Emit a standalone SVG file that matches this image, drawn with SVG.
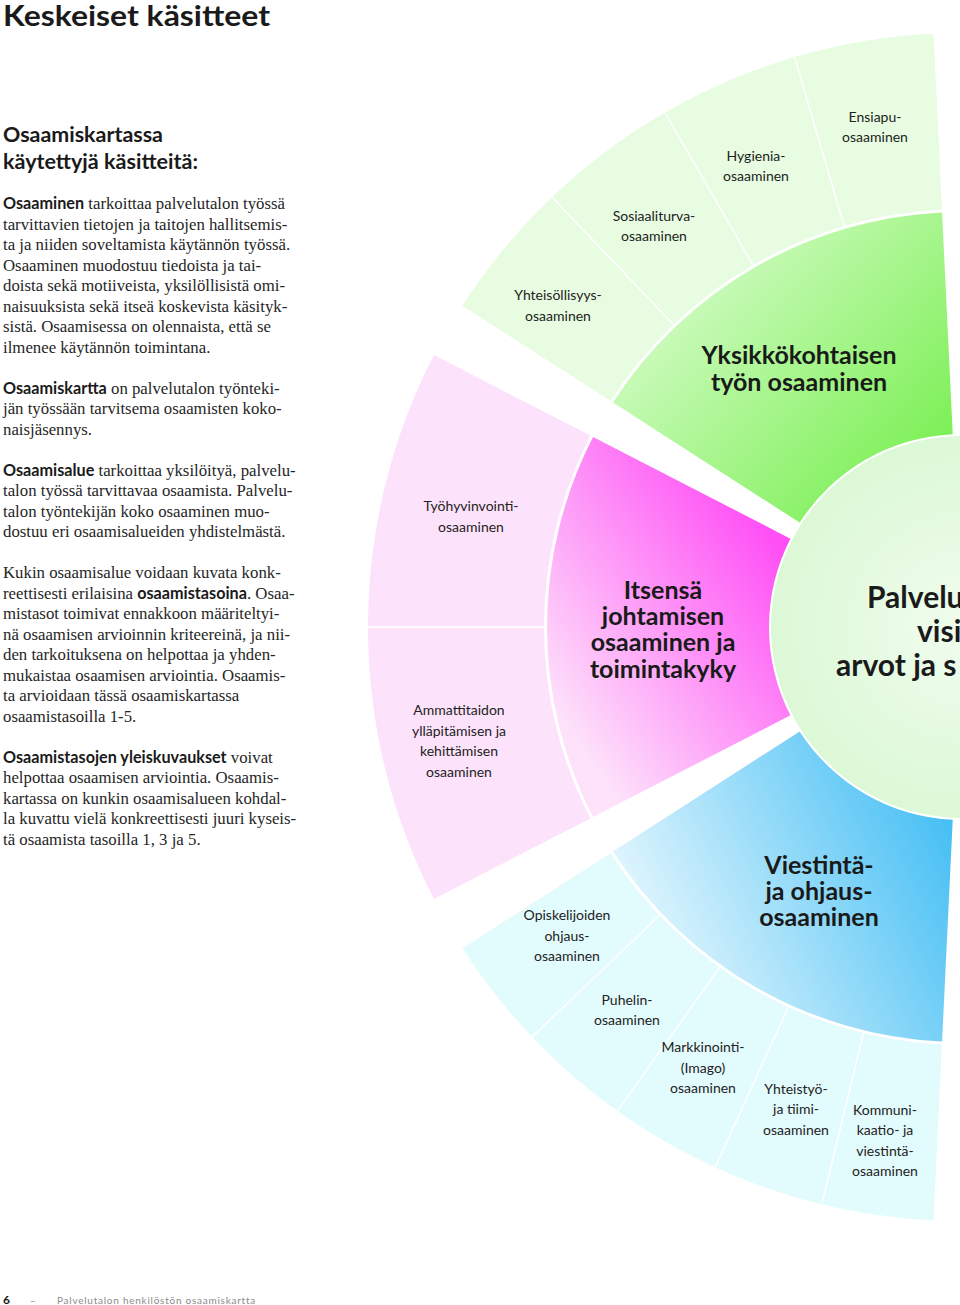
<svg xmlns="http://www.w3.org/2000/svg" width="960" height="1305" viewBox="0 0 960 1305">
<style>
.title{font-family:Lato,"Open Sans",sans-serif;font-weight:700;font-size:29px;fill:#1a1a1a}
.h2{font-family:Lato,"Open Sans",sans-serif;font-weight:700;font-size:21px;fill:#1a1a1a}
.body{font-family:"Liberation Serif","DejaVu Serif",serif;font-size:16.8px;fill:#262626}
.b{font-family:Lato,"Open Sans",sans-serif;font-weight:700;font-size:16.2px;fill:#1a1a1a}
.lbl{font-family:Lato,"Open Sans",sans-serif;font-size:14px;fill:#222;text-anchor:middle}
.big{font-family:Lato,"Open Sans",sans-serif;font-weight:700;font-size:25px;fill:#1a1a1a;text-anchor:middle}
.core{font-family:Lato,"Open Sans",sans-serif;font-weight:700;font-size:30px;fill:#1a1a1a}
.div{stroke:#fff;stroke-width:1.6;fill:none}
.foot{font-family:Lato,"Open Sans",sans-serif;font-size:10px;fill:#8a8a8a;letter-spacing:0.75px}
</style>
<defs>
<linearGradient id="gG" gradientUnits="userSpaceOnUse" x1="640" y1="250" x2="930" y2="520">
<stop offset="0" stop-color="#dcfdd2"/><stop offset="1" stop-color="#72ee48"/>
</linearGradient>
<linearGradient id="gP" gradientUnits="userSpaceOnUse" x1="560" y1="720" x2="790" y2="560">
<stop offset="0" stop-color="#fde2fa"/><stop offset="1" stop-color="#ff4ff5"/>
</linearGradient>
<linearGradient id="gB" gradientUnits="userSpaceOnUse" x1="650" y1="940" x2="940" y2="800">
<stop offset="0" stop-color="#e0f5fd"/><stop offset="1" stop-color="#46bff4"/>
</linearGradient>
<radialGradient id="gC" gradientUnits="userSpaceOnUse" cx="962" cy="627" r="191">
<stop offset="0" stop-color="#f0fdee"/><stop offset="1" stop-color="#dcf8d6"/>
</radialGradient>
</defs>

<g id="text-column">
<text class="title" x="3" y="26" textLength="267" lengthAdjust="spacingAndGlyphs">Keskeiset käsitteet</text>
<text class="h2" x="3" y="142" textLength="160" lengthAdjust="spacingAndGlyphs">Osaamiskartassa</text>
<text class="h2" x="3" y="169" textLength="195" lengthAdjust="spacingAndGlyphs">käytettyjä käsitteitä:</text>
<text class="body" x="3" y="209"><tspan class="b">Osaaminen</tspan> tarkoittaa palvelutalon työssä</text>
<text class="body" x="3" y="230">tarvittavien tietojen ja taitojen hallitsemis-</text>
<text class="body" x="3" y="250">ta ja niiden soveltamista käytännön työssä.</text>
<text class="body" x="3" y="271">Osaaminen muodostuu tiedoista ja tai-</text>
<text class="body" x="3" y="291">doista sekä motiiveista, yksilöllisistä omi-</text>
<text class="body" x="3" y="312">naisuuksista sekä itseä koskevista käsityk-</text>
<text class="body" x="3" y="332">sistä. Osaamisessa on olennaista, että se</text>
<text class="body" x="3" y="353">ilmenee käytännön toimintana.</text>
<text class="body" x="3" y="394"><tspan class="b">Osaamiskartta</tspan> on palvelutalon työnteki-</text>
<text class="body" x="3" y="414">jän työssään tarvitsema osaamisten koko-</text>
<text class="body" x="3" y="435">naisjäsennys.</text>
<text class="body" x="3" y="476"><tspan class="b">Osaamisalue</tspan> tarkoittaa yksilöityä, palvelu-</text>
<text class="body" x="3" y="496">talon työssä tarvittavaa osaamista. Palvelu-</text>
<text class="body" x="3" y="517">talon työntekijän koko osaaminen muo-</text>
<text class="body" x="3" y="537">dostuu eri osaamisalueiden yhdistelmästä.</text>
<text class="body" x="3" y="578">Kukin osaamisalue voidaan kuvata konk-</text>
<text class="body" x="3" y="599">reettisesti erilaisina <tspan class="b">osaamistasoina</tspan>. Osaa-</text>
<text class="body" x="3" y="619">mistasot toimivat ennakkoon määriteltyi-</text>
<text class="body" x="3" y="640">nä osaamisen arvioinnin kriteereinä, ja nii-</text>
<text class="body" x="3" y="660">den tarkoituksena on helpottaa ja yhden-</text>
<text class="body" x="3" y="681">mukaistaa osaamisen arviointia. Osaamis-</text>
<text class="body" x="3" y="701">ta arvioidaan tässä osaamiskartassa</text>
<text class="body" x="3" y="722">osaamistasoilla 1-5.</text>
<text class="body" x="3" y="763"><tspan class="b">Osaamistasojen yleiskuvaukset</tspan> voivat</text>
<text class="body" x="3" y="783">helpottaa osaamisen arviointia. Osaamis-</text>
<text class="body" x="3" y="804">kartassa on kunkin osaamisalueen kohdal-</text>
<text class="body" x="3" y="824">la kuvattu vielä konkreettisesti juuri kyseis-</text>
<text class="body" x="3" y="845">tä osaamista tasoilla 1, 3 ja 5.</text>
</g>

<g id="outer-green">
<path d="M933.5 33.68 A594 594 0 0 0 462.42 305.66 L610.45 400.87 A418 418 0 0 1 941.94 209.48 Z" fill="#e7fce0"/>
<line class="div" x1="844.14" y1="225.96" x2="794.52" y2="57.1"/>
<line class="div" x1="753" y1="265" x2="665" y2="112.58"/>
<line class="div" x1="673.48" y1="324.55" x2="551.99" y2="197.2"/>
<text class="lbl" x="875" y="122">Ensiapu-</text>
<text class="lbl" x="875" y="142">osaaminen</text>
<text class="lbl" x="756" y="161">Hygienia-</text>
<text class="lbl" x="756" y="181">osaaminen</text>
<text class="lbl" x="654" y="221">Sosiaaliturva-</text>
<text class="lbl" x="654" y="241">osaaminen</text>
<text class="lbl" x="558" y="300">Yhteisöllisyys-</text>
<text class="lbl" x="558" y="321">osaaminen</text>
</g>

<g id="outer-pink">
<path d="M433.92 355.03 A594 594 0 0 0 433.92 898.97 L590.39 818.39 A418 418 0 0 1 590.39 435.61 Z" fill="#fde2fb"/>
<line class="div" x1="366" y1="627" x2="546" y2="627"/>
<text class="lbl" x="471" y="511">Työhyvinvointi-</text>
<text class="lbl" x="471" y="532">osaaminen</text>
<text class="lbl" x="459" y="715">Ammattitaidon</text>
<text class="lbl" x="459" y="736">ylläpitämisen ja</text>
<text class="lbl" x="459" y="756">kehittämisen</text>
<text class="lbl" x="459" y="777">osaaminen</text>
</g>

<g id="outer-blue">
<path d="M462.42 948.34 A594 594 0 0 0 933.5 1220.32 L941.94 1044.52 A418 418 0 0 1 610.45 853.13 Z" fill="#e2fbfd"/>
<line class="div" x1="659.5" y1="915.5" x2="532.1" y2="1036.9"/>
<line class="div" x1="719.6" y1="967.5" x2="617.5" y2="1110.9"/>
<line class="div" x1="788.3" y1="1007.2" x2="715.2" y2="1167.3"/>
<line class="div" x1="863.4" y1="1033.2" x2="821.8" y2="1204.2"/>
<text class="lbl" x="567" y="920">Opiskelijoiden</text>
<text class="lbl" x="567" y="941">ohjaus-</text>
<text class="lbl" x="567" y="961">osaaminen</text>
<text class="lbl" x="627" y="1005">Puhelin-</text>
<text class="lbl" x="627" y="1025">osaaminen</text>
<text class="lbl" x="703" y="1052">Markkinointi-</text>
<text class="lbl" x="703" y="1073">(Imago)</text>
<text class="lbl" x="703" y="1093">osaaminen</text>
<text class="lbl" x="796" y="1094">Yhteistyö-</text>
<text class="lbl" x="796" y="1114">ja tiimi-</text>
<text class="lbl" x="796" y="1135">osaaminen</text>
<text class="lbl" x="885" y="1115">Kommuni-</text>
<text class="lbl" x="885" y="1135">kaatio- ja</text>
<text class="lbl" x="885" y="1156">viestintä-</text>
<text class="lbl" x="885" y="1176">osaaminen</text>
</g>

<g id="inner-green">
<path d="M942.09 212.48 A415 415 0 0 0 612.97 402.5 L799.68 522.59 A193 193 0 0 1 952.74 434.22 Z" fill="url(#gG)"/>
<text class="big" x="799" y="364">Yksikkökohtaisen</text>
<text class="big" x="799" y="391">työn osaaminen</text>
</g>

<g id="inner-pink">
<path d="M593.06 436.98 A415 415 0 0 0 593.06 817.02 L790.42 715.37 A193 193 0 0 1 790.42 538.63 Z" fill="url(#gP)"/>
<text class="big" x="663" y="599">Itsensä</text>
<text class="big" x="663" y="625">johtamisen</text>
<text class="big" x="663" y="651">osaaminen ja</text>
<text class="big" x="663" y="678">toimintakyky</text>
</g>

<g id="inner-blue">
<path d="M612.97 851.5 A415 415 0 0 0 942.09 1041.52 L952.74 819.78 A193 193 0 0 1 799.68 731.41 Z" fill="url(#gB)"/>
<text class="big" x="819" y="874">Viestintä-</text>
<text class="big" x="819" y="900">ja ohjaus-</text>
<text class="big" x="819" y="926">osaaminen</text>
</g>

<g id="core">
<circle cx="962" cy="627" r="191" fill="url(#gC)"/>
<text class="core" x="867" y="608">Palvelu</text>
<text class="core" x="917" y="642">visi</text>
<text class="core" x="836" y="676">arvot ja s</text>
</g>

<g id="connectors"></g>

<g id="footer">
<text class="h2" x="3" y="1304" style="font-size:12px">6</text>
<text class="foot" x="30" y="1304">–</text>
<text class="foot" x="57" y="1304">Palvelutalon henkilöstön osaamiskartta</text>
</g>
</svg>
